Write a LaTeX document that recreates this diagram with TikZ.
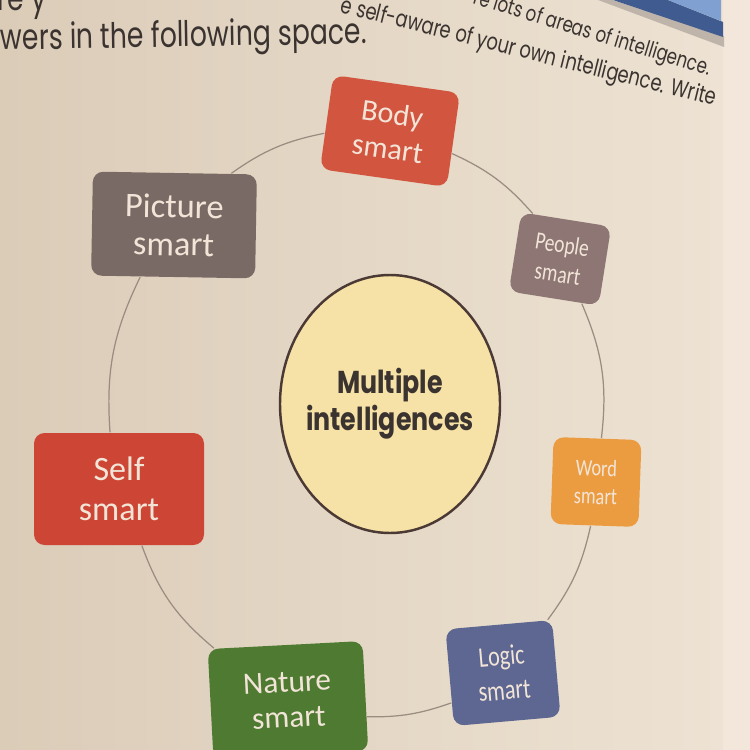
\documentclass[tikz,border=0pt]{standalone}
\usepackage{fontspec}
\usepackage{tikz}
\usetikzlibrary{shapes.geometric}
\newfontfamily\boxfont{Carlito}
\newfontfamily\boxnarrow{Carlito}[FakeStretch=0.78]
\newfontfamily\hubfont{Poppins}[FakeStretch=0.8]
\newfontfamily\pagefont{Poppins}[FakeStretch=0.76]
\definecolor{paperdark}{HTML}{DBCCB8}
\definecolor{paperlight}{HTML}{EEE3D4}
\definecolor{pageedge}{HTML}{F2E7DA}
\definecolor{inkgray}{HTML}{3A332F}
\definecolor{ringcolor}{HTML}{9A8C80}
\definecolor{hubfill}{HTML}{F6E1A6}
\definecolor{hubline}{HTML}{4A3934}
\definecolor{boxtext}{HTML}{F2E5D8}
\definecolor{bodyred}{HTML}{D2553F}
\definecolor{peoplegray}{HTML}{8D7674}
\definecolor{picturegray}{HTML}{7A6A65}
\definecolor{selfred}{HTML}{CC4535}
\definecolor{naturegreen}{HTML}{4F7A31}
\definecolor{logicblue}{HTML}{5E6791}
\definecolor{wordorange}{HTML}{EC9C40}
\definecolor{barlight}{HTML}{7FA0D0}
\definecolor{bardark}{HTML}{3F5B90}
\definecolor{barshade}{HTML}{BFB4AA}
\tikzset{
  smartbox/.style={rounded corners=3pt,text=boxtext,align=center,inner sep=1pt},
  ringline/.style={draw=ringcolor,line width=0.35pt},
  hub/.style={ellipse,draw=hubline,fill=hubfill,line width=0.7pt,inner xsep=-4pt,inner ysep=0pt,minimum width=2.2cm,minimum height=2.58cm,align=center,text=inkgray,font=\hubfont\bfseries\fontsize{9}{9.3}\selectfont},
  pageline/.style={anchor=base west,text=inkgray,inner sep=0pt}
}

\begin{document}
\begin{tikzpicture}[x=0.1mm,y=0.1mm]
\useasboundingbox (0,0) rectangle (750,-750);
\clip (0,0) rectangle (750,-750);
\shade[left color=paperdark,right color=paperlight] (0,0) rectangle (750,-750);
\fill[pageedge] (723,0) rectangle (750,-750);
% heading strip, top right
\fill[barshade] (598,0) -- (724,-47) -- (724,-36) -- (612,0) -- cycle;
\fill[bardark] (613,0) -- (723,-37) -- (723,-22) -- (668,0) -- cycle;
\fill[barlight] (668,0) -- (721,-21) -- (721,0) -- cycle;
% page text
\node[pageline,font=\pagefont\fontsize{10}{12}\selectfont] (cutoff) at (-3,-11) {re y};
\node[pageline,rotate=1,font=\pagefont\fontsize{10}{12}\selectfont] (answers) at (0,-50) {wers in the following space.};
\node[pageline,rotate=-14,font=\pagefont\fontsize{6.7}{8}\selectfont] (aware) at (339,-12) {e self-aware of your own intelligence. Write};
\node[pageline,rotate=-17,font=\pagefont\fontsize{6.2}{7}\selectfont] (areas) at (472,-3) {re lots of areas of intelligence.};
% hub and boxes
\node[hub] (hub) at (390,-404) {Multiple\\intelligences};
\node[smartbox,fill=bodyred,rotate=-8,minimum width=1.28cm,minimum height=0.95cm,font=\boxfont\fontsize{8.6}{10}\selectfont] (body) at (390,-131) {Body\\smart};
\node[smartbox,fill=peoplegray,rotate=-9,minimum width=0.91cm,minimum height=0.8cm,font=\boxnarrow\fontsize{7.1}{8.5}\selectfont] (people) at (560,-259) {People\\smart};
\node[smartbox,fill=wordorange,rotate=-2,minimum width=0.88cm,minimum height=0.87cm,font=\boxnarrow\fontsize{6.7}{8}\selectfont] (word) at (596,-482) {Word\\smart};
\node[smartbox,fill=logicblue,rotate=5,minimum width=1.07cm,minimum height=0.97cm,font=\boxnarrow\fontsize{8.1}{9.7}\selectfont] (logic) at (503,-673) {Logic\\smart};
\node[smartbox,fill=naturegreen,rotate=3,minimum width=1.55cm,minimum height=1.1cm,font=\boxfont\fontsize{8.9}{10}\selectfont] (nature) at (288,-700) {Nature\\smart};
\node[smartbox,fill=selfred,minimum width=1.7cm,minimum height=1.12cm,font=\boxfont\fontsize{9.7}{11.5}\selectfont] (self) at (119,-489) {Self\\smart};
\node[smartbox,fill=picturegray,rotate=-1,minimum width=1.64cm,minimum height=1.04cm,font=\boxfont\fontsize{9.8}{10.8}\selectfont] (picture) at (174,-225) {Picture\\smart};
% ring through the boxes
\foreach \a/\b/\p/\q/\k in {picture/body/43/190/12, body/people/-12/130/12, people/word/-55/85/15, word/logic/-95/45/12, logic/nature/205/-15/10, nature/self/142/-68/15, self/picture/99/238/15}
  \draw[ringline] (\a.\p) to[bend left=\k] (\b.\q);
\end{tikzpicture}
\end{document}
